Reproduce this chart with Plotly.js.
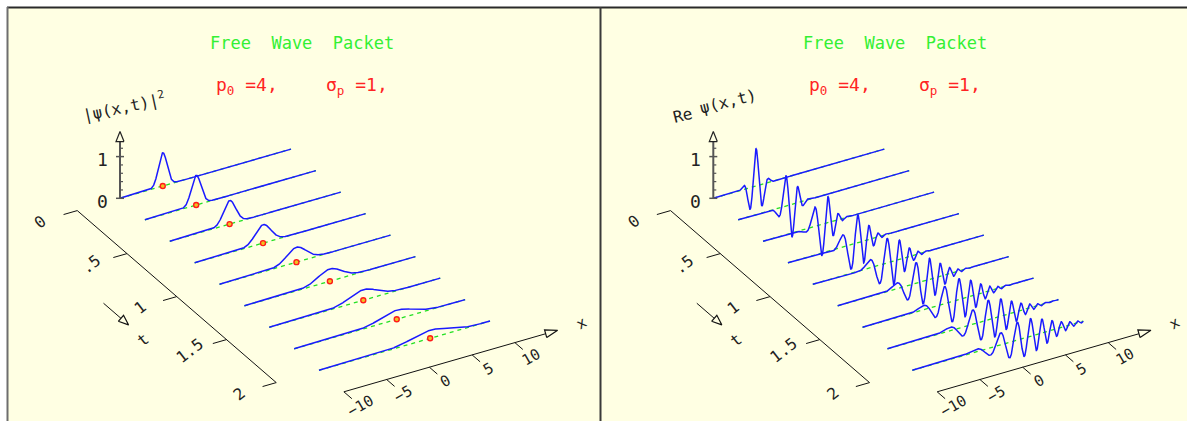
<!DOCTYPE html>
<html><head><meta charset="utf-8">
<script src="https://cdn.plot.ly/plotly-3.0.1.min.js"></script>
<style>html,body{margin:0;padding:0;background:#fff}</style>
</head><body><div id="chart" style="width:1187px;height:421px"></div>
<script>
// ---------------- data ----------------
const TIMES = [0, 0.25, 0.5, 0.75, 1, 1.25, 1.5, 1.75, 2];
const P0 = 4;            // mean momentum
const SIGMA_P = 1;       // momentum spread
const X_START = -5;      // initial packet centre
const X_RANGE = [-10, 10];
const VALUE_TICKS = [0, 1];
const VALUE_TICK_LABELS = ['0', '1'];
const VALUE_MINOR = [0.2, 0.4, 0.6, 0.8, 1.2];
const T_TICKS = [0, 0.5, 1, 1.5, 2];
const T_TICK_LABELS = ['0', '.5', '1', '1.5', '2'];
const X_TICKS = [-10, -5, 0, 5, 10];
const X_TICK_LABELS = ['\u221210', '\u22125', '0', '5', '10'];
const PANELS = ['abs2', 're'];
const PANEL_YLABEL = [['|\u03c8(x,t)|<sup>2</sup>'], ['Re', '\u03c8(x,t)']];

// ---------------- style / geometry ----------------
const BG = '#ffffe3';
const FONT = 'DejaVu Sans Mono, monospace';
const PANEL_DX = 593.3;
function P(panel, x, t, v) {
  return [205.5 + panel * PANEL_DX + 8.55 * x + 99.5 * t,
          173.7 - 2.46 * x + 86 * t - 41.7 * v];
}

// free gaussian wave packet (hbar = m = 1)
const SIGMA_X = 1 / (2 * SIGMA_P);
function psi(x, t) {
  const s2 = SIGMA_X * SIGMA_X;
  const D = s2 * s2 + t * t / 4;
  const a = s2 / D, b = -(t / 2) / D;           // 1/alpha = a + i b
  const u = x - X_START - P0 * t;
  const reE = -u * u * a / 4;
  const imE = -u * u * b / 4 + P0 * (x - X_START) - P0 * P0 * t / 2;
  const absAlpha = Math.sqrt(s2 * s2 + t * t / 4);
  const argAlpha = Math.atan2(t / 2, s2);
  const C = Math.pow(2 * Math.PI, -0.25) * Math.sqrt(SIGMA_X) / Math.sqrt(absAlpha);
  const mag = C * Math.exp(reE);
  const ph = imE - argAlpha / 2;
  return { re: mag * Math.cos(ph), abs2: mag * mag };
}

const traces = [];
const shapes = [];
const ann = [];

function line(pts, color, width, dash) {
  traces.push({ type: 'scatter', mode: 'lines', x: pts.map(p => p[0]), y: pts.map(p => p[1]),
    line: { color: color, width: width, dash: dash || 'solid' }, hoverinfo: 'skip' });
}
function openArrow(tip, base, hw, color) {
  const dx = tip[0] - base[0], dy = tip[1] - base[1];
  const L = Math.hypot(dx, dy);
  const px = -dy / L * hw, py = dx / L * hw;
  const pts = [[base[0] + px, base[1] + py], tip, [base[0] - px, base[1] - py], [base[0] + px, base[1] + py]];
  traces.push({ type: 'scatter', mode: 'lines', x: pts.map(p => p[0]), y: pts.map(p => p[1]),
    fill: 'toself', fillcolor: BG, line: { color: color, width: 1.2 }, hoverinfo: 'skip' });
}
function text(x, y, s, size, color, angle, xanchor) {
  ann.push({ x: x, y: y, xref: 'x', yref: 'y', text: s, showarrow: false,
    font: { family: FONT, size: size, color: color }, textangle: angle || 0,
    xanchor: xanchor || 'center', yanchor: 'middle' });
}

const NX = 1001;
const xs = [];
for (let i = 0; i < NX; i++) xs.push(X_RANGE[0] + (X_RANGE[1] - X_RANGE[0]) * i / (NX - 1));

PANELS.forEach((q, pi) => {
  // baselines (green dashed)
  TIMES.forEach(t => line([P(pi, X_RANGE[0], t, 0), P(pi, X_RANGE[1], t, 0)], '#22e022', 1.3, '4px,4px'));
  // curves
  TIMES.forEach(t => {
    const pts = xs.map(x => P(pi, x, t, psi(x, t)[q]));
    line(pts, '#1a1aff', 1.5);
  });
  // classical position markers
  if (q === 'abs2') {
    const mp = TIMES.map(t => P(pi, X_START + P0 * t, t, 0));
    traces.push({ type: 'scatter', mode: 'markers', x: mp.map(p => p[0]), y: mp.map(p => p[1]),
      marker: { symbol: 'circle', size: 5, color: '#f0c020', line: { width: 1.4, color: '#ff1a1a' } }, hoverinfo: 'skip' });
  }
  // value axis
  const v0 = P(pi, X_RANGE[0], 0, 0);
  const vTip = P(pi, X_RANGE[0], 0, 1.6);
  line([v0, P(pi, X_RANGE[0], 0, 1.36)], '#555', 2);
  openArrow(vTip, P(pi, X_RANGE[0], 0, 1.36), 4, '#222');
  VALUE_TICKS.forEach((v, i) => {
    const p = P(pi, X_RANGE[0], 0, v);
    line([[p[0] - 4, p[1]], [p[0] + 4, p[1]]], '#555', 1.5);
    text(p[0] - 10, p[1] + 3, VALUE_TICK_LABELS[i], 18, '#222', 0, 'right');
  });
  VALUE_MINOR.forEach(v => {
    const p = P(pi, X_RANGE[0], 0, v);
    line([[p[0], p[1]], [p[0] + 3, p[1]]], '#555', 1.2);
  });
  // t axis
  line([P(pi, -15, 0, 0), P(pi, -15, 2, 0)], '#111', 1);
  T_TICKS.forEach((t, i) => {
    line([P(pi, -15, t, 0), P(pi, -16.6, t, 0)], '#111', 1);
    const lp = P(pi, -19.3, t, 0);
    text(lp[0], lp[1], T_TICK_LABELS[i], 16, '#222', -38);
  });
  const ta = P(pi, -22.1, 0.874, 0), tb = P(pi, -22.1, 1.125, 0);
  line([ta, tb], '#111', 1);
  const dirx = tb[0] - ta[0], diry = tb[1] - ta[1], dl = Math.hypot(dirx, diry);
  openArrow(tb, [tb[0] - dirx / dl * 10, tb[1] - diry / dl * 10], 4, '#111');
  const tl = P(pi, -22.3, 1.29, 0);
  text(tl[0], tl[1], 't', 16, '#222', -38);
  // x axis
  const xa = P(pi, -10, 2.25, 0), xTip = P(pi, 15, 2.25, 0), xBase = P(pi, 13.6, 2.25, 0);
  line([xa, xBase], '#111', 1);
  openArrow(xTip, xBase, 4, '#111');
  X_TICKS.forEach((x, i) => {
    line([P(pi, x, 2.25, 0), P(pi, x, 2.33, 0)], '#111', 1);
    const lp = P(pi, x, 2.415, 0);
    text(lp[0], lp[1], X_TICK_LABELS[i], 15, '#222', -30);
  });
  const xl = P(pi, 17.8, 2.25, 0);
  text(xl[0], xl[1], 'x', 15, '#222', -30);
  // titles
  const cx = 302 + pi * PANEL_DX;
  text(cx, 43, 'Free\u00a0 Wave\u00a0 Packet', 17, '#33f033', 0);
  text(247 + pi * PANEL_DX, 86, 'p<sub>0</sub> =4,', 18, '#ff2424', 0);
  text(357 + pi * PANEL_DX, 86, '\u03c3<sub>p</sub> =1,', 18, '#ff2424', 0);
  // value-axis label
  if (pi === 0) {
    text(124, 106, PANEL_YLABEL[0][0], 16, '#222', -12);
  } else {
    text(682 , 115, PANEL_YLABEL[1][0], 16, '#222', -14);
    text(728 , 101, PANEL_YLABEL[1][1], 16, '#222', -14);
  }
});

// panel frame
shapes.push({ type: 'rect', xref: 'x', yref: 'y', x0: 7, y0: 7, x1: 1187, y1: 421, fillcolor: BG, line: { width: 0 }, layer: 'below' });
shapes.push({ type: 'line', xref: 'x', yref: 'y', x0: 7, y0: 7.5, x1: 1187, y1: 7.5, line: { color: '#2a2a2a', width: 2 } });
shapes.push({ type: 'line', xref: 'x', yref: 'y', x0: 7.5, y0: 7, x1: 7.5, y1: 421, line: { color: '#6e6e6e', width: 2 } });
shapes.push({ type: 'line', xref: 'x', yref: 'y', x0: 600.5, y0: 7, x1: 600.5, y1: 421, line: { color: '#3a3a3a', width: 2 } });

const layout = {
  width: 1187, height: 421, margin: { l: 0, r: 0, t: 0, b: 0 },
  paper_bgcolor: '#ffffff', plot_bgcolor: 'rgba(0,0,0,0)', showlegend: false,
  xaxis: { range: [0, 1187], visible: false, fixedrange: true },
  yaxis: { range: [421, 0], visible: false, fixedrange: true },
  shapes: shapes, annotations: ann
};
Plotly.newPlot('chart', traces, layout, { staticPlot: true, displayModeBar: false });
</script></body></html>
